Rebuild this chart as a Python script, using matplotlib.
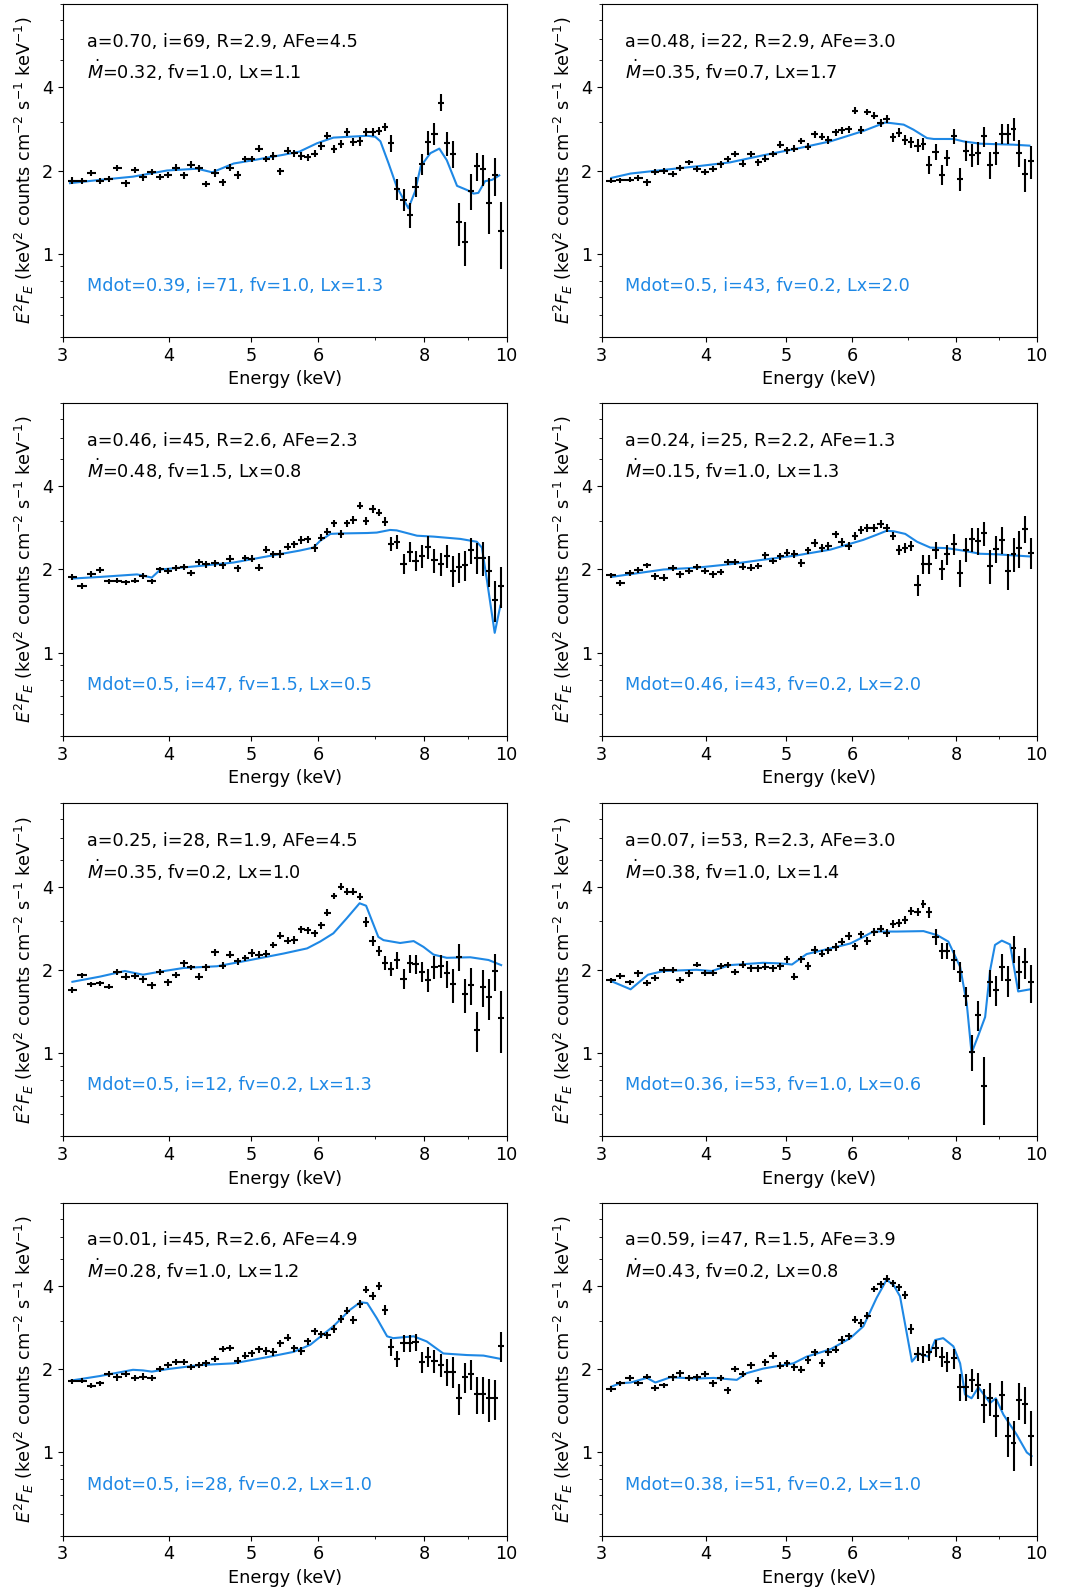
import numpy as np
import matplotlib
matplotlib.use('Agg')
import matplotlib.pyplot as plt
from matplotlib.ticker import FixedLocator, NullFormatter, LogLocator, ScalarFormatter


# Bin centres (keV), shared by all spectra
energy = [3.08, 3.16, 3.24, 3.32, 3.40, 3.48, 3.56, 3.65, 3.73, 3.82,
          3.91, 3.99, 4.08, 4.17, 4.25, 4.34, 4.43, 4.53, 4.63, 4.72,
          4.82, 4.92, 5.01, 5.11, 5.21, 5.31, 5.41, 5.52, 5.62, 5.73,
          5.83, 5.94, 6.05, 6.15, 6.26, 6.38, 6.49, 6.60, 6.72, 6.83,
          6.95, 7.07, 7.19, 7.31, 7.42, 7.56, 7.69, 7.81, 7.95, 8.08,
          8.22, 8.36, 8.50, 8.64, 8.79, 8.94, 9.08, 9.23, 9.38, 9.53,
          9.69, 9.85]

# Unfolded spectra (E^2 F_E) and 1-sigma errors
flux_1 = [1.84, 1.83, 1.96, 1.83, 1.86, 2.04, 1.80, 2.01, 1.89, 1.98,
          1.90, 1.93, 2.05, 1.92, 2.10, 2.04, 1.79, 1.96, 1.81, 2.05,
          1.93, 2.20, 2.20, 2.40, 2.20, 2.26, 1.99, 2.36, 2.31, 2.26,
          2.23, 2.30, 2.46, 2.67, 2.39, 2.49, 2.76, 2.54, 2.55, 2.76,
          2.76, 2.78, 2.87, 2.51, 1.72, 1.57, 1.38, 1.75, 2.11, 2.53,
          2.72, 3.52, 2.51, 2.30, 1.30, 1.10, 1.69, 2.08, 2.02, 1.53,
          1.92, 1.21]
err_1 = [0.05, 0.05, 0.05, 0.05, 0.05, 0.05, 0.05, 0.05, 0.05, 0.05,
         0.05, 0.05, 0.06, 0.05, 0.06, 0.06, 0.05, 0.06, 0.05, 0.06,
         0.06, 0.06, 0.06, 0.07, 0.06, 0.07, 0.06, 0.07, 0.07, 0.07,
         0.07, 0.07, 0.08, 0.08, 0.08, 0.08, 0.09, 0.09, 0.09, 0.09,
         0.09, 0.09, 0.10, 0.18, 0.15, 0.14, 0.14, 0.15, 0.18, 0.25,
         0.24, 0.25, 0.25, 0.26, 0.23, 0.20, 0.25, 0.24, 0.26, 0.35,
         0.30, 0.33]

flux_2 = [1.835, 1.845, 1.85, 1.88, 1.81, 1.97, 2.00, 1.945, 2.05, 2.14,
          2.03, 1.98, 2.02, 2.11, 2.20, 2.30, 2.12, 2.30, 2.14, 2.21,
          2.30, 2.48, 2.37, 2.40, 2.56, 2.44, 2.70, 2.65, 2.58, 2.75,
          2.80, 2.82, 3.29, 2.81, 3.26, 3.16, 2.97, 3.08, 2.64, 2.74,
          2.58, 2.53, 2.46, 2.50, 2.10, 2.34, 1.93, 2.22, 2.66, 1.87,
          2.36, 2.28, 2.32, 2.66, 2.10, 2.32, 2.72, 2.72, 2.82, 2.32,
          1.94, 2.16]
err_2 = [0.04, 0.04, 0.04, 0.05, 0.05, 0.05, 0.05, 0.05, 0.05, 0.05,
         0.05, 0.05, 0.05, 0.06, 0.06, 0.06, 0.06, 0.06, 0.06, 0.06,
         0.06, 0.07, 0.07, 0.07, 0.07, 0.07, 0.08, 0.08, 0.08, 0.08,
         0.08, 0.08, 0.09, 0.09, 0.09, 0.09, 0.09, 0.10, 0.10, 0.10,
         0.11, 0.12, 0.13, 0.13, 0.15, 0.16, 0.16, 0.15, 0.16, 0.18,
         0.20, 0.22, 0.22, 0.22, 0.23, 0.22, 0.22, 0.22, 0.27, 0.26,
         0.27, 0.30]

flux_3 = [1.88, 1.745, 1.93, 1.99, 1.81, 1.82, 1.80, 1.82, 1.90, 1.81,
          2.00, 1.98, 2.02, 2.05, 1.94, 2.13, 2.09, 2.11, 2.07, 2.19,
          2.02, 2.20, 2.19, 2.03, 2.36, 2.27, 2.28, 2.42, 2.47, 2.56,
          2.57, 2.39, 2.61, 2.74, 2.94, 2.69, 2.94, 3.02, 3.40, 3.00,
          3.31, 3.21, 2.98, 2.48, 2.52, 2.10, 2.32, 2.15, 2.24, 2.42,
          2.16, 2.10, 2.24, 1.98, 2.04, 2.07, 2.35, 2.21, 2.21, 1.98,
          1.55, 1.745]
err_3 = [0.04, 0.04, 0.05, 0.05, 0.04, 0.04, 0.04, 0.04, 0.05, 0.04,
         0.05, 0.05, 0.05, 0.05, 0.05, 0.06, 0.06, 0.06, 0.06, 0.06,
         0.06, 0.06, 0.06, 0.06, 0.07, 0.07, 0.07, 0.07, 0.07, 0.08,
         0.08, 0.08, 0.08, 0.08, 0.09, 0.09, 0.09, 0.09, 0.10, 0.10,
         0.10, 0.10, 0.11, 0.14, 0.15, 0.17, 0.19, 0.18, 0.22, 0.23,
         0.21, 0.20, 0.22, 0.25, 0.26, 0.26, 0.26, 0.28, 0.31, 0.25,
         0.26, 0.29]

flux_4 = [1.91, 1.79, 1.945, 1.99, 2.07, 1.89, 1.87, 2.03, 1.92, 1.97,
          2.05, 1.97, 1.92, 1.96, 2.13, 2.13, 2.05, 2.03, 2.06, 2.25,
          2.15, 2.23, 2.30, 2.28, 2.12, 2.35, 2.50, 2.40, 2.44, 2.68,
          2.52, 2.43, 2.64, 2.78, 2.82, 2.82, 2.92, 2.83, 2.65, 2.36,
          2.39, 2.43, 1.76, 2.09, 2.09, 2.35, 2.00, 2.27, 2.47, 1.95,
          2.36, 2.57, 2.54, 2.70, 2.06, 2.38, 2.56, 1.98, 2.28, 2.39,
          2.80, 2.30]
err_4 = [0.04, 0.04, 0.05, 0.05, 0.05, 0.05, 0.05, 0.05, 0.05, 0.05,
         0.05, 0.05, 0.05, 0.05, 0.06, 0.06, 0.06, 0.06, 0.06, 0.06,
         0.06, 0.07, 0.07, 0.07, 0.07, 0.07, 0.08, 0.08, 0.08, 0.08,
         0.08, 0.08, 0.09, 0.09, 0.09, 0.09, 0.09, 0.09, 0.09, 0.10,
         0.10, 0.10, 0.15, 0.17, 0.17, 0.16, 0.17, 0.19, 0.21, 0.22,
         0.23, 0.25, 0.28, 0.26, 0.29, 0.26, 0.28, 0.30, 0.32, 0.37,
         0.31, 0.29]

flux_5 = [1.69, 1.91, 1.77, 1.785, 1.74, 1.96, 1.89, 1.90, 1.845, 1.76,
          1.97, 1.80, 1.92, 2.11, 2.04, 1.89, 2.04, 2.31, 2.07, 2.27,
          2.15, 2.21, 2.30, 2.27, 2.29, 2.46, 2.66, 2.55, 2.56, 2.80,
          2.78, 2.71, 2.90, 3.22, 3.70, 4.00, 3.83, 3.83, 3.68, 2.98,
          2.55, 2.34, 2.12, 2.02, 2.17, 1.86, 2.11, 2.10, 1.97, 1.84,
          2.05, 2.07, 1.94, 1.77, 2.23, 1.63, 1.76, 1.21, 1.73, 1.59,
          1.98, 1.34]
err_5 = [0.04, 0.04, 0.04, 0.04, 0.04, 0.05, 0.05, 0.05, 0.05, 0.05,
         0.05, 0.05, 0.05, 0.06, 0.05, 0.05, 0.06, 0.06, 0.06, 0.06,
         0.06, 0.06, 0.07, 0.07, 0.07, 0.07, 0.08, 0.08, 0.08, 0.08,
         0.08, 0.08, 0.09, 0.09, 0.10, 0.11, 0.11, 0.11, 0.11, 0.12,
         0.11, 0.10, 0.12, 0.12, 0.15, 0.15, 0.16, 0.17, 0.16, 0.18,
         0.20, 0.20, 0.22, 0.25, 0.25, 0.23, 0.27, 0.20, 0.26, 0.27,
         0.30, 0.34]

flux_6 = [1.83, 1.90, 1.80, 1.94, 1.79, 1.87, 1.99, 2.00, 1.84, 1.94,
          2.09, 1.95, 1.95, 2.07, 2.08, 1.97, 2.09, 2.03, 2.03, 2.05,
          2.03, 2.06, 2.18, 1.89, 2.18, 2.06, 2.36, 2.29, 2.35, 2.42,
          2.53, 2.65, 2.43, 2.69, 2.54, 2.75, 2.82, 2.71, 2.94, 2.96,
          3.03, 3.27, 3.23, 3.47, 3.23, 2.63, 2.34, 2.34, 2.17, 1.97,
          1.61, 1.01, 1.37, 0.76, 1.80, 1.69, 2.05, 1.83, 2.39, 1.97,
          2.13, 1.80]
err_6 = [0.04, 0.04, 0.04, 0.05, 0.04, 0.05, 0.05, 0.05, 0.05, 0.05,
         0.05, 0.05, 0.05, 0.05, 0.05, 0.05, 0.06, 0.06, 0.06, 0.06,
         0.06, 0.06, 0.06, 0.06, 0.07, 0.07, 0.07, 0.07, 0.07, 0.08,
         0.08, 0.08, 0.08, 0.08, 0.08, 0.09, 0.09, 0.09, 0.10, 0.10,
         0.11, 0.11, 0.11, 0.12, 0.14, 0.18, 0.16, 0.16, 0.18, 0.16,
         0.13, 0.15, 0.17, 0.21, 0.20, 0.21, 0.23, 0.23, 0.27, 0.27,
         0.27, 0.28]

flux_7 = [1.81, 1.82, 1.745, 1.78, 1.92, 1.87, 1.92, 1.86, 1.88, 1.86,
          2.00, 2.07, 2.12, 2.12, 2.04, 2.07, 2.10, 2.18, 2.36, 2.38,
          2.15, 2.24, 2.28, 2.36, 2.33, 2.31, 2.48, 2.60, 2.38, 2.33,
          2.52, 2.74, 2.68, 2.65, 2.79, 3.04, 3.26, 3.02, 3.44, 3.88,
          3.69, 3.99, 3.28, 2.40, 2.18, 2.48, 2.48, 2.50, 2.12, 2.22,
          2.14, 2.07, 1.96, 1.96, 1.57, 1.87, 1.92, 1.63, 1.63, 1.57,
          1.57, 2.42]
err_7 = [0.04, 0.04, 0.04, 0.04, 0.05, 0.05, 0.05, 0.05, 0.05, 0.05,
         0.05, 0.05, 0.05, 0.05, 0.05, 0.05, 0.06, 0.06, 0.06, 0.06,
         0.06, 0.06, 0.06, 0.07, 0.07, 0.07, 0.07, 0.07, 0.07, 0.07,
         0.08, 0.08, 0.08, 0.08, 0.09, 0.10, 0.10, 0.10, 0.11, 0.12,
         0.12, 0.13, 0.13, 0.17, 0.15, 0.17, 0.17, 0.18, 0.18, 0.18,
         0.21, 0.20, 0.22, 0.25, 0.20, 0.23, 0.24, 0.25, 0.25, 0.28,
         0.26, 0.30]

flux_8 = [1.70, 1.78, 1.86, 1.78, 1.88, 1.71, 1.75, 1.87, 1.93, 1.86,
          1.87, 1.92, 1.78, 1.86, 1.68, 2.00, 1.92, 2.07, 1.82, 2.12,
          2.24, 2.06, 2.10, 2.03, 1.99, 2.16, 2.30, 2.11, 2.31, 2.35,
          2.55, 2.63, 3.02, 2.94, 3.12, 3.90, 4.05, 4.25, 4.10, 3.95,
          3.72, 2.80, 2.27, 2.26, 2.31, 2.38, 2.22, 2.13, 2.19, 1.73,
          1.73, 1.83, 1.75, 1.49, 1.57, 1.35, 1.62, 1.15, 1.08, 1.55,
          1.50, 1.15]
err_8 = [0.04, 0.04, 0.04, 0.04, 0.04, 0.04, 0.04, 0.05, 0.05, 0.05,
         0.05, 0.05, 0.05, 0.05, 0.05, 0.05, 0.05, 0.06, 0.05, 0.06,
         0.06, 0.06, 0.06, 0.06, 0.06, 0.07, 0.07, 0.07, 0.07, 0.07,
         0.08, 0.08, 0.09, 0.09, 0.09, 0.11, 0.12, 0.12, 0.12, 0.12,
         0.12, 0.11, 0.13, 0.16, 0.16, 0.17, 0.18, 0.18, 0.18, 0.19,
         0.19, 0.18, 0.19, 0.21, 0.22, 0.21, 0.20, 0.19, 0.22, 0.24,
         0.23, 0.26]

# Best-matching wind models (energy, E^2 F_E)
model_e_1 = [3.06, 3.32, 3.63, 3.98, 4.32, 4.50, 4.77, 4.99, 5.46, 5.70,
             5.98, 6.25, 6.54, 6.85, 7.00, 7.10, 7.26, 7.42, 7.66, 7.80,
             7.92, 8.13, 8.33, 8.50, 8.74, 8.98, 9.14, 9.26, 9.43, 9.61,
             9.80]
model_y_1 = [1.80, 1.85, 1.90, 2.00, 2.03, 1.97, 2.12, 2.17, 2.28, 2.34,
             2.51, 2.63, 2.65, 2.67, 2.65, 2.55, 2.12, 1.75, 1.46, 1.68,
             2.07, 2.31, 2.40, 2.18, 1.76, 1.70, 1.65, 1.66, 1.83, 1.85,
             1.92]

model_e_2 = [3.08, 3.25, 3.56, 3.90, 4.28, 4.69, 5.15, 5.65, 5.91, 6.19,
             6.42, 6.57, 6.67, 6.92, 7.11, 7.38, 7.52, 7.94, 8.16, 8.55,
             8.95, 9.37, 9.80]
model_y_2 = [1.88, 1.95, 2.01, 2.07, 2.14, 2.27, 2.40, 2.55, 2.66, 2.78,
             2.90, 2.98, 2.97, 2.93, 2.81, 2.62, 2.60, 2.60, 2.55, 2.50,
             2.49, 2.48, 2.46]

model_e_3 = [3.08, 3.32, 3.67, 3.82, 3.91, 4.35, 4.77, 5.22, 5.70, 5.92,
             6.03, 6.20, 6.37, 6.85, 7.03, 7.29, 7.42, 7.84, 8.20, 8.82,
             9.22, 9.35, 9.48, 9.68, 9.83]
model_y_3 = [1.855, 1.88, 1.92, 1.87, 2.00, 2.06, 2.12, 2.23, 2.34, 2.40,
             2.54, 2.69, 2.70, 2.71, 2.72, 2.78, 2.77, 2.65, 2.63, 2.58,
             2.52, 2.40, 1.82, 1.18, 1.48]

model_e_4 = [3.08, 3.56, 3.90, 4.28, 4.69, 5.15, 5.65, 6.19, 6.42, 6.60,
             6.73, 6.95, 7.18, 7.45, 7.79, 8.16, 8.55, 8.95, 9.37, 9.80]
model_y_4 = [1.88, 2.00, 2.03, 2.09, 2.17, 2.25, 2.36, 2.56, 2.67, 2.76,
             2.75, 2.69, 2.52, 2.40, 2.39, 2.34, 2.28, 2.27, 2.25, 2.23]

model_e_5 = [3.08, 3.32, 3.55, 3.73, 3.91, 4.16, 4.56, 4.99, 5.46, 5.82,
             6.03, 6.25, 6.48, 6.71, 6.83, 7.06, 7.16, 7.49, 7.77, 7.98,
             8.20, 8.50, 9.06, 9.52, 9.85]
model_y_5 = [1.81, 1.89, 1.98, 1.92, 1.97, 2.03, 2.06, 2.17, 2.29, 2.39,
             2.53, 2.71, 3.07, 3.48, 3.41, 2.63, 2.56, 2.50, 2.54, 2.42,
             2.27, 2.21, 2.22, 2.17, 2.08]

model_e_6 = [3.08, 3.25, 3.41, 3.56, 3.90, 4.07, 4.28, 4.69, 4.91, 5.08,
             5.29, 5.65, 5.97, 6.19, 6.36, 6.79, 7.31, 7.59, 7.83, 8.09,
             8.24, 8.35, 8.51, 8.67, 8.79, 8.91, 9.08, 9.29, 9.50, 9.82]
model_y_6 = [1.82, 1.70, 1.92, 1.98, 2.00, 1.98, 2.08, 2.12, 2.11, 2.09,
             2.28, 2.39, 2.49, 2.63, 2.75, 2.75, 2.76, 2.67, 2.53, 2.05,
             1.51, 1.00, 1.16, 1.35, 1.99, 2.46, 2.55, 2.47, 1.67, 1.70]

model_e_7 = [3.07, 3.32, 3.63, 3.73, 3.82, 3.98, 4.35, 4.77, 5.22, 5.61,
             5.87, 6.25, 6.54, 6.72, 6.85, 7.03, 7.23, 7.35, 7.77, 8.05,
             8.42, 8.98, 9.39, 9.83]
model_y_7 = [1.82, 1.89, 1.99, 1.98, 1.96, 2.00, 2.07, 2.10, 2.21, 2.31,
             2.45, 2.86, 3.28, 3.49, 3.47, 3.06, 2.63, 2.59, 2.63, 2.52,
             2.28, 2.25, 2.24, 2.18]

model_e_8 = [3.08, 3.16, 3.25, 3.40, 3.48, 3.63, 3.90, 4.09, 4.36, 4.48,
             4.69, 5.10, 5.29, 5.65, 5.97, 6.19, 6.42, 6.60, 6.73, 6.85,
             7.08, 7.21, 7.41, 7.55, 7.72, 7.94, 8.09, 8.20, 8.35, 8.51,
             8.79, 8.93, 9.12, 9.46, 9.73, 9.86]
model_y_8 = [1.73, 1.78, 1.79, 1.86, 1.79, 1.87, 1.85, 1.86, 1.83, 1.935,
             2.01, 2.10, 2.22, 2.36, 2.59, 2.86, 3.62, 4.21, 4.03, 3.67,
             2.13, 2.28, 2.22, 2.55, 2.59, 2.42, 2.10, 1.62, 1.57, 1.72,
             1.51, 1.57, 1.37, 1.16, 1.00, 0.97]

# Fitted disc-reflection parameters, one entry per spectrum
spin = [0.70, 0.48, 0.46, 0.24, 0.25, 0.07, 0.01, 0.59]
incl = [69, 22, 45, 25, 28, 53, 45, 47]
r_in = [2.9, 2.9, 2.6, 2.2, 1.9, 2.3, 2.6, 1.5]
a_fe = [4.5, 3.0, 2.3, 1.3, 4.5, 3.0, 4.9, 3.9]
mdot = [0.32, 0.35, 0.48, 0.15, 0.35, 0.38, 0.28, 0.43]
f_v = [1.0, 0.7, 1.5, 1.0, 0.2, 1.0, 1.0, 0.2]
l_x = [1.1, 1.7, 0.8, 1.3, 1.0, 1.4, 1.2, 0.8]

# Wind model parameters
mod_mdot = [0.39, 0.5, 0.5, 0.46, 0.5, 0.36, 0.5, 0.38]
mod_incl = [71, 43, 47, 43, 12, 53, 28, 51]
mod_fv = [1.0, 0.2, 1.5, 0.2, 0.2, 1.0, 0.2, 0.2]
mod_lx = [1.3, 2.0, 0.5, 2.0, 1.3, 0.6, 1.0, 1.0]

fluxes = [flux_1, flux_2, flux_3, flux_4, flux_5, flux_6, flux_7, flux_8]
errors = [err_1, err_2, err_3, err_4, err_5, err_6, err_7, err_8]
model_es = [model_e_1, model_e_2, model_e_3, model_e_4,
            model_e_5, model_e_6, model_e_7, model_e_8]
model_ys = [model_y_1, model_y_2, model_y_3, model_y_4,
            model_y_5, model_y_6, model_y_7, model_y_8]

MODEL_COLOR = '#1E88E5'
FS = 12.7
FS_TXT = 12.7

fig = plt.figure(figsize=(10.71, 15.93), dpi=100)

# axes rectangles in pixels: column lefts/widths, row tops
col_left = [62.7, 601.7]
col_width = [444.0, 435.0]
row_top = [4.0, 403.0, 803.3, 1202.7]
ax_h = 333.0
W, H = 1071.0, 1593.0

e = np.array(energy)
xerr = np.gradient(e) / 2.

for k in range(8):
    row, col = divmod(k, 2)
    rect = [col_left[col] / W, 1 - (row_top[row] + ax_h) / H,
            col_width[col] / W, ax_h / H]
    ax = fig.add_axes(rect)

    ax.plot(model_es[k], model_ys[k], color=MODEL_COLOR, lw=1.5, zorder=2)
    ax.errorbar(e, fluxes[k], xerr=xerr, yerr=errors[k], fmt='none',
                ecolor='k', elinewidth=1.5, capsize=0, zorder=3)

    ax.set_xscale('log')
    ax.set_yscale('log')
    ax.set_xlim(3, 10)
    ax.set_ylim(0.5, 8)

    ax.xaxis.set_major_locator(FixedLocator([3, 4, 5, 6, 8, 10]))
    ax.xaxis.set_minor_locator(FixedLocator([7, 9]))
    ax.xaxis.set_major_formatter(ScalarFormatter())
    ax.xaxis.set_minor_formatter(NullFormatter())
    ax.yaxis.set_major_locator(FixedLocator([1, 2, 4]))
    ax.yaxis.set_minor_locator(LogLocator(base=10, subs=np.arange(1, 10)))
    ax.yaxis.set_major_formatter(ScalarFormatter())
    ax.yaxis.set_minor_formatter(NullFormatter())
    ax.tick_params(labelsize=FS)

    ax.set_xlabel('Energy (keV)', fontsize=FS)
    ax.set_ylabel(r'$E^2F_E$ (keV$^2$ counts cm$^{-2}$ s$^{-1}$ keV$^{-1}$)',
                  fontsize=FS)

    ax.text(0.054, 0.887,
            'a={:.2f}, i={}, R={:.1f}, AFe={:.1f}'.format(
                spin[k], incl[k], r_in[k], a_fe[k]),
            transform=ax.transAxes, fontsize=FS_TXT, va='center')
    ax.text(0.054, 0.80,
            r'$\dot{M}$' + '={:.2f}, fv={:.1f}, Lx={:.1f}'.format(
                mdot[k], f_v[k], l_x[k]),
            transform=ax.transAxes, fontsize=FS_TXT, va='center')
    ax.text(0.054, 0.153,
            'Mdot={}, i={}, fv={}, Lx={}'.format(
                mod_mdot[k], mod_incl[k], mod_fv[k], mod_lx[k]),
            transform=ax.transAxes, fontsize=FS_TXT, va='center',
            color=MODEL_COLOR)

fig.savefig('out.png', dpi=100)
